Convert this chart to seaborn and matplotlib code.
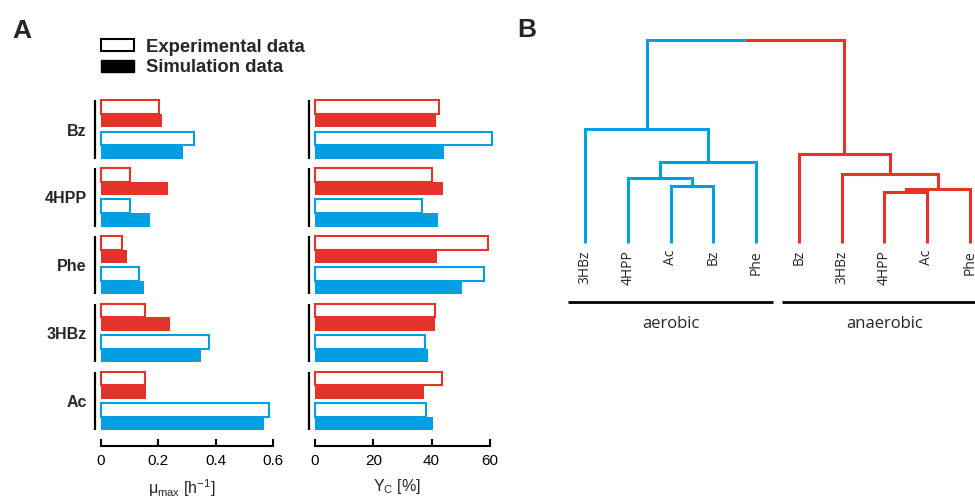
import numpy as np
import matplotlib
matplotlib.use("Agg")
import matplotlib.pyplot as plt
from matplotlib.patches import Patch
import seaborn as sns

# substrates, top to bottom
substrates = ["Bz", "4HPP", "Phe", "3HBz", "Ac"]

# growth rate mu_max [1/h]
mu_exp_anaer = [0.203, 0.103, 0.073, 0.154, 0.154]
mu_sim_anaer = [0.214, 0.235, 0.090, 0.242, 0.156]
mu_exp_aer = [0.325, 0.103, 0.133, 0.376, 0.587]
mu_sim_aer = [0.288, 0.171, 0.151, 0.350, 0.568]

# carbon yield Y_C [%]
yc_exp_anaer = [42.4, 40.0, 59.3, 41.2, 43.5]
yc_sim_anaer = [41.6, 44.0, 42.0, 41.3, 37.5]
yc_exp_aer = [60.6, 36.6, 57.9, 37.9, 38.0]
yc_sim_aer = [44.2, 42.3, 50.3, 38.9, 40.5]

# dendrogram: leaf order + merges (child a, child b, height), scipy-style ids
aerobic_leaves = ["3HBz", "4HPP", "Ac", "Bz", "Phe"]
aerobic_merges = [(2, 3, 0.278), (1, 5, 0.319), (6, 4, 0.397), (0, 7, 0.561)]
anaerobic_leaves = ["Bz", "3HBz", "4HPP", "Ac", "Phe"]
anaerobic_merges = [(2, 3, 0.249), (5, 4, 0.266), (1, 6, 0.340), (0, 7, 0.438)]
root_height = 1.0

RED = "#E6332A"
BLUE = "#009FE3"

sns.set_style("white")
plt.rcParams["font.family"] = ["Liberation Sans", "DejaVu Sans"]
plt.rcParams["mathtext.fontset"] = "custom"
plt.rcParams["mathtext.rm"] = "Liberation Sans"
plt.rcParams["mathtext.it"] = "Liberation Sans"
plt.rcParams["mathtext.default"] = "regular"

fig = plt.figure(figsize=(9.75, 4.99), dpi=100)
ax1 = fig.add_axes([0.0944, 0.1068, 0.192, 0.7016])
ax2 = fig.add_axes([0.3142, 0.1068, 0.1945, 0.7016])
ax3 = fig.add_axes([0.5538, 0.3186, 0.4462, 0.6212])

pos = np.arange(len(substrates))
offsets = [-0.33, -0.13, 0.13, 0.33]


def bar_panel(ax, series, xmax, ticks, xlabel, label_x):
    for (vals, col, filled), off in zip(series, offsets):
        if filled:
            sns.barplot(x=vals, y=pos + off, orient="h", native_scale=True,
                        width=0.2, color=col, saturation=1, linewidth=0,
                        errorbar=None, ax=ax)
        else:
            sns.barplot(x=vals, y=pos + off, orient="h", native_scale=True,
                        width=0.2, color=col, saturation=1, fill=False,
                        linewidth=1.5, errorbar=None, ax=ax)
    ax.set_ylim(len(substrates) - 1 + 0.66, -0.5)
    ax.set_xlim(-0.05 * xmax, xmax * 1.035)
    ax.vlines(np.full(len(pos), 0.015), pos - 0.43, pos + 0.43,
              transform=ax.get_yaxis_transform(), colors="black", lw=1.6)
    for s in ["left", "top", "right"]:
        ax.spines[s].set_visible(False)
    ax.spines["bottom"].set_bounds(0, ticks[-1])
    ax.spines["bottom"].set_linewidth(1.5)
    ax.spines["bottom"].set_color("black")
    ax.set_xticks(ticks)
    ax.tick_params(axis="x", bottom=True, direction="in", length=5, width=1.5,
                   pad=6, labelsize=11, colors="black")
    ax.set_xlabel(xlabel, fontsize=11.5)
    ax.xaxis.set_label_coords(label_x, -0.09)
    ax.set_ylabel("")


bar_panel(ax1,
          [(mu_exp_anaer, RED, False), (mu_sim_anaer, RED, True),
           (mu_exp_aer, BLUE, False), (mu_sim_aer, BLUE, True)],
          0.6, [0, 0.2, 0.4, 0.6], r"$\mathregular{μ_{max}\ [h^{-1}]}$", 0.48)
ax1.set_xticklabels(["0", "0.2", "0.4", "0.6"])
ax1.set_yticks(pos)
ax1.set_yticklabels(substrates, fontweight="bold", fontsize=11.5)
ax1.tick_params(axis="y", left=False, length=0, pad=4)

bar_panel(ax2,
          [(yc_exp_anaer, RED, False), (yc_sim_anaer, RED, True),
           (yc_exp_aer, BLUE, False), (yc_sim_aer, BLUE, True)],
          60, [0, 20, 40, 60], r"$\mathregular{Y_C\ [\%]}$", 0.48)
ax2.set_yticks([])

# legend
handles = [Patch(facecolor="white", edgecolor="black", linewidth=1.5, label="Experimental data"),
           Patch(facecolor="black", edgecolor="black", label="Simulation data")]
fig.legend(handles=handles, loc="upper left", bbox_to_anchor=(101 / 975, 1 - 38.5 / 499),
           frameon=False, prop={"weight": "bold", "size": 13.3}, handlelength=1.78,
           handleheight=0.6, handletextpad=0.65, labelspacing=0.2, borderpad=0,
           borderaxespad=0)


# dendrogram
def draw_tree(ax, merges, n_leaves, x0, color):
    xs = {i: x0 + i for i in range(n_leaves)}
    ys = {i: 0.0 for i in range(n_leaves)}
    node = None
    for k, (a, b, h) in enumerate(merges):
        node = n_leaves + k
        ax.plot([xs[a], xs[a], xs[b], xs[b]], [ys[a], h, h, ys[b]], color=color,
                lw=2.2, solid_joinstyle="miter", solid_capstyle="butt")
        xs[node] = (xs[a] + xs[b]) / 2
        ys[node] = h
    return xs[node], ys[node]


xl, hl = draw_tree(ax3, aerobic_merges, len(aerobic_leaves), 0, BLUE)
xr, hr = draw_tree(ax3, anaerobic_merges, len(anaerobic_leaves), len(aerobic_leaves), RED)
mid = (xl + xr) / 2
ax3.plot([xl, xl, mid], [hl, root_height, root_height], color=BLUE, lw=2.2,
         solid_joinstyle="miter", solid_capstyle="butt")
ax3.plot([mid, xr, xr], [root_height, root_height, hr], color=RED, lw=2.2,
         solid_joinstyle="miter", solid_capstyle="butt")

for i, name in enumerate(aerobic_leaves + anaerobic_leaves):
    ax3.text(i, -0.036, name, rotation=90, ha="center", va="top", fontsize=10,
             family="Open Sans")

for start, leaves, name in [(0, aerobic_leaves, "aerobic"),
                            (len(aerobic_leaves), anaerobic_leaves, "anaerobic")]:
    center = start + (len(leaves) - 1) / 2
    half = len(leaves) / 2 - 0.1
    ax3.plot([center - half, center + half], [-0.291, -0.291], color="black", lw=2,
             solid_capstyle="butt", clip_on=False)
    ax3.text(center, -0.401, name, ha="center", va="center", fontsize=12,
             family="Open Sans")

ax3.set_xlim(-1.06, 9.124)
ax3.set_ylim(-0.48, 1.049)
ax3.axis("off")

fig.text(12 / 975, 1 - 38 / 499, "A", fontsize=19, fontweight="bold", va="baseline")
fig.text(517 / 975, 1 - 37 / 499, "B", fontsize=19, fontweight="bold", va="baseline")

fig.savefig("out.png", dpi=100)
